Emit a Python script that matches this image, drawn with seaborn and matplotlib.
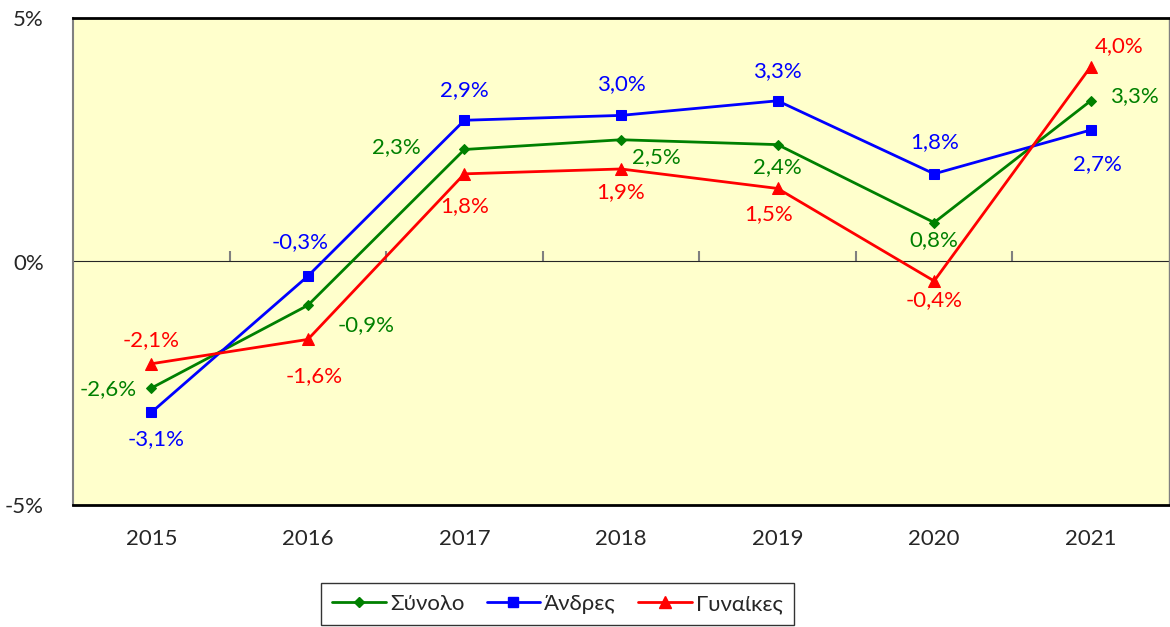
import matplotlib
matplotlib.use("Agg")
import matplotlib.pyplot as plt
import seaborn as sns
import pandas as pd
from matplotlib.lines import Line2D

years = ["2015", "2016", "2017", "2018", "2019", "2020", "2021"]
synolo = [-2.6, -0.9, 2.3, 2.5, 2.4, 0.8, 3.3]
andres = [-3.1, -0.3, 2.9, 3.0, 3.3, 1.8, 2.7]
gynaikes = [-2.1, -1.6, 1.8, 1.9, 1.5, -0.4, 4.0]
series_names = ["Σύνολο", "Άνδρες", "Γυναίκες"]
y_ticks = [-5, 0, 5]

sns.set_style("white")
plt.rcParams["font.family"] = ["Lato", "Open Sans", "DejaVu Sans"]

FS = 16
colors = {"Σύνολο": "#008000", "Άνδρες": "#0000FF", "Γυναίκες": "#FF0000"}
markers = {"Σύνολο": "D", "Άνδρες": "s", "Γυναίκες": "^"}
msizes = {"Σύνολο": 5.5, "Άνδρες": 7.5, "Γυναίκες": 8}
# label offsets in pixels (dx, dy)
offsets = {
    "Σύνολο": [(-43, -1), (58, -20), (-68, 2), (35, -17), (0, -22), (0, -18), (44, 5)],
    "Άνδρες": [(5, -27), (-8, 34), (0, 30), (0, 31), (0, 30), (0, 32), (7, -34)],
    "Γυναίκες": [(0, 24), (6, -37), (0, -32), (0, -23), (-9, -26), (0, -19), (28, 21)],
}

values = {"Σύνολο": synolo, "Άνδρες": andres, "Γυναίκες": gynaikes}
rows = []
for name in series_names:
    for i, (yr, v) in enumerate(zip(years, values[name])):
        rows.append({"x": i, "year": yr, "value": v, "series": name})
df = pd.DataFrame(rows)

fig = plt.figure(figsize=(11.7, 6.27), dpi=100)
ax = fig.add_axes([73 / 1170, 1 - 505 / 627, (1169 - 73) / 1170, (505 - 18) / 627])
ax.set_facecolor("#FFFFCC")

for name in series_names:
    sub = df[df["series"] == name]
    sns.lineplot(data=sub, x="x", y="value", ax=ax, color=colors[name],
                 marker=markers[name], markersize=msizes[name],
                 markeredgecolor=colors[name], linewidth=2, legend=False, zorder=3)
    for i, (xv, yv) in enumerate(zip(sub["x"], sub["value"])):
        dx, dy = offsets[name][i]
        ax.annotate(f"{yv:.1f}%".replace(".", ","), (xv, yv), xytext=(dx, dy),
                    textcoords="offset pixels", ha="center", va="center",
                    fontsize=FS, color=colors[name], zorder=4)

ax.set_xlim(-0.5, 6.5)
ax.set_ylim(-5, 5)
ax.set_xticks(range(len(years)))
ax.set_xticklabels(years, fontsize=FS)
ax.set_yticks(y_ticks)
ax.set_yticklabels([f"{t}%" for t in y_ticks], fontsize=FS)
ax.tick_params(axis="x", length=0, pad=17)
ax.tick_params(axis="y", length=9, width=1.5, color="#808080", direction="out", pad=12)
ax.set_xlabel("")
ax.set_ylabel("")

ax.spines["left"].set_color("#808080")
ax.spines["left"].set_linewidth(1.5)
ax.spines["right"].set_color("#808080")
ax.spines["right"].set_linewidth(1)
ax.spines["top"].set_color("black")
ax.spines["top"].set_linewidth(2)
ax.spines["bottom"].set_color("black")
ax.spines["bottom"].set_linewidth(2)

# zero axis with category-boundary ticks
sec = ax.secondary_xaxis(0.5)
sec.set_xticks([i + 0.5 for i in range(len(years) - 1)])
sec.set_xticklabels([])
sec.tick_params(axis="x", length=7, width=1.5, color="#808080", direction="out")
sec.spines["bottom"].set_color("#808080")
sec.spines["bottom"].set_linewidth(1.5)

handles = [Line2D([0], [0], color=colors[n], marker=markers[n], markersize=msizes[n],
                  linewidth=2) for n in series_names]
leg = fig.legend(handles, series_names, loc="upper center",
                 bbox_to_anchor=(557.5 / 1170, 1 - 572 / 627), ncol=3, fontsize=FS,
                 frameon=True, fancybox=False, edgecolor="black", handlelength=2.4,
                 handletextpad=0.2, columnspacing=1.0, borderpad=0.5)
leg.get_frame().set_linewidth(1)

fig.savefig("out.png", dpi=100)
